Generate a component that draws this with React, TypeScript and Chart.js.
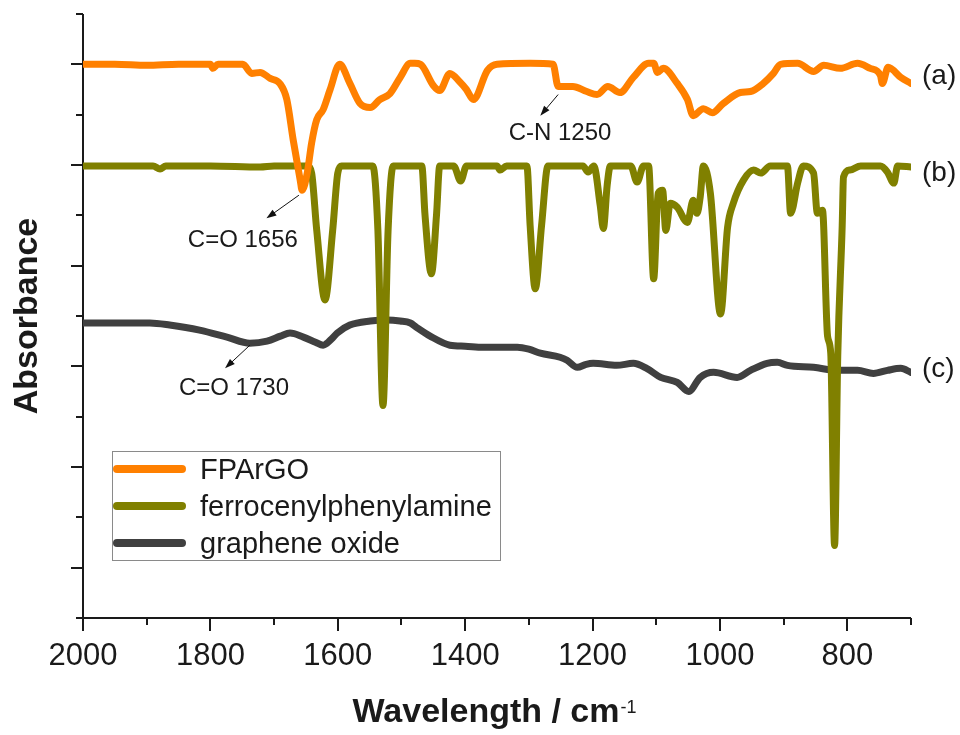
import React, { useEffect, useRef } from "react";
import { Chart, registerables } from "chart.js";

Chart.register(...registerables);

// ---- data: [wavenumber (cm-1), absorbance (offset, a.u.)] ----
const fpargoPoints: [number, number][] = [
  [2000, 5.0], [1950, 5.0], [1900, 4.99], [1850, 5.0], [1800, 5.0], [1796, 4.96], [1788, 5.0],
  [1749, 5.0], [1735, 4.91], [1722, 4.92], [1706, 4.86], [1691, 4.81], [1680, 4.65],
  [1670, 4.25], [1659, 3.85], [1656, 3.75], [1648, 3.92], [1641, 4.22], [1633, 4.45],
  [1623, 4.55], [1612, 4.75], [1597, 5.0], [1581, 4.81], [1565, 4.61], [1549, 4.57],
  [1534, 4.65], [1518, 4.71], [1502, 4.87], [1486, 5.01], [1479, 5.01], [1470, 5.0],
  [1450, 4.79], [1440, 4.74], [1424, 4.91], [1409, 4.83], [1398, 4.75], [1387, 4.65],
  [1365, 4.94], [1350, 5.0], [1298, 5.01], [1262, 5.0], [1254, 4.78], [1231, 4.78],
  [1209, 4.73], [1193, 4.7], [1176, 4.78], [1157, 4.72], [1136, 4.87], [1112, 5.01],
  [1104, 5.01], [1098, 4.92], [1089, 4.96], [1067, 4.81], [1051, 4.65], [1042, 4.49],
  [1026, 4.56], [1012, 4.52], [995, 4.61], [968, 4.72], [952, 4.73], [932, 4.81],
  [916, 4.91], [905, 5.0], [878, 5.01], [853, 4.93], [837, 4.99], [811, 4.96],
  [784, 5.01], [764, 4.96], [748, 4.89], [745, 4.81], [736, 4.97], [716, 4.87], [700, 4.81],
];

const ferrocenylPoints: [number, number][] = [
  [2000, 3.99], [1950, 3.99], [1890, 3.99], [1879, 3.96], [1870, 3.99], [1800, 3.99],
  [1722, 3.98], [1700, 3.99], [1647, 3.99], [1641, 3.92], [1633, 3.35], [1620, 2.66],
  [1608, 3.35], [1600, 3.92], [1594, 3.99], [1545, 3.99], [1537, 3.35], [1529, 1.61],
  [1521, 3.35], [1513, 3.99], [1468, 3.99], [1463, 3.5], [1453, 2.92], [1445, 3.5],
  [1440, 3.99], [1418, 3.99], [1407, 3.84], [1398, 3.99], [1350, 3.99], [1345, 3.95],
  [1335, 3.99], [1303, 3.99], [1298, 3.4], [1290, 2.77], [1280, 3.4], [1270, 3.99],
  [1215, 3.99], [1207, 3.93], [1198, 3.99], [1188, 3.6], [1183, 3.37], [1177, 3.8],
  [1172, 3.99], [1140, 3.99], [1130, 3.83], [1120, 3.99], [1112, 3.99], [1104, 2.87],
  [1097, 3.72], [1090, 3.75], [1085, 3.35], [1078, 3.62], [1067, 3.58], [1051, 3.43],
  [1042, 3.65], [1036, 3.52], [1031, 3.68], [1026, 3.99], [1015, 3.72], [999, 2.52],
  [988, 3.38], [979, 3.62], [963, 3.85], [947, 3.95], [936, 3.92], [921, 3.99],
  [894, 3.99], [889, 3.52], [878, 3.82], [869, 3.99], [853, 3.92], [847, 3.52],
  [839, 3.55], [831, 2.3], [826, 2.13], [820, 0.22], [815, 2.1], [808, 3.4],
  [806, 3.88], [796, 3.95], [779, 3.99], [748, 3.99], [737, 3.93], [727, 3.82],
  [721, 3.99], [700, 3.98],
];

const grapheneOxidePoints: [number, number][] = [
  [2000, 2.43], [1950, 2.43], [1895, 2.43], [1864, 2.41], [1817, 2.36], [1774, 2.29],
  [1738, 2.23], [1711, 2.25], [1690, 2.3], [1675, 2.33], [1654, 2.29], [1635, 2.24],
  [1623, 2.21], [1610, 2.27], [1601, 2.33], [1581, 2.41], [1549, 2.45], [1523, 2.46],
  [1502, 2.45], [1486, 2.43], [1477, 2.39], [1455, 2.3], [1424, 2.21], [1400, 2.2],
  [1372, 2.19], [1318, 2.19], [1300, 2.17], [1282, 2.13], [1251, 2.09], [1240, 2.06],
  [1224, 1.99], [1210, 2.02], [1199, 2.03], [1162, 2.01], [1136, 2.03], [1115, 1.98],
  [1093, 1.89], [1067, 1.84], [1049, 1.75], [1031, 1.89], [1010, 1.94], [973, 1.89],
  [952, 1.96], [926, 2.03], [910, 2.04], [894, 2.01], [853, 1.99], [815, 1.96],
  [784, 1.96], [759, 1.93], [737, 1.96], [716, 1.98], [700, 1.94],
];

const seriesNames = ["FPArGO", "ferrocenylphenylamine", "graphene oxide"];
const seriesColors = ["#ff8000", "#808000", "#404040"];

const xMajorTicks = [2000, 1800, 1600, 1400, 1200, 1000, 800];
const xMajorLabels = ["2000", "1800", "1600", "1400", "1200", "1000", "800"];
const xMinorTicks = [1900, 1700, 1500, 1300, 1100, 900, 700];
const yMajorTicks = [0, 1, 2, 3, 4, 5];
const yMinorTicks = [-0.5, 0.5, 1.5, 2.5, 3.5, 4.5, 5.5];

const curveLabels = ["(a)", "(b)", "(c)"];
const curveLabelLevels = [4.8, 3.84, 1.89];

// annotations: text, arrow start (on curve), arrow head, text anchor (baseline centre)
const annotationTexts = ["C=O 1656", "C-N 1250", "C=O 1730"];
const annotationFrom: [number, number][] = [[1661, 3.7], [1254, 4.7], [1738, 2.21]];
const annotationTo: [number, number][] = [[1712, 3.47], [1282, 4.49], [1777, 1.98]];
const annotationTextAt: [number, number][] = [[1749, 3.19], [1251, 4.25], [1763, 1.72]];

const FONT = "'Liberation Sans', Arial, Helvetica, sans-serif";
const INK = "#1a1a1a";

const overlayPlugin = {
  id: "overlay",
  beforeDatasetsDraw(chart: any) {
    const { ctx, chartArea: a, scales } = chart;
    const xs = scales.x;
    const ys = scales.y;
    ctx.save();
    ctx.strokeStyle = INK;
    ctx.lineWidth = 2;
    ctx.lineCap = "butt";
    ctx.beginPath();
    ctx.moveTo(a.left, a.top);
    ctx.lineTo(a.left, a.bottom);
    ctx.lineTo(a.right, a.bottom);
    ctx.stroke();
    ctx.beginPath();
    yMajorTicks.forEach((v) => {
      const p = Math.round(ys.getPixelForValue(v));
      ctx.moveTo(a.left - 12, p);
      ctx.lineTo(a.left, p);
    });
    yMinorTicks.forEach((v) => {
      const p = Math.round(ys.getPixelForValue(v));
      ctx.moveTo(a.left - 7, p);
      ctx.lineTo(a.left, p);
    });
    xMajorTicks.forEach((v) => {
      const p = Math.round(xs.getPixelForValue(v));
      ctx.moveTo(p, a.bottom);
      ctx.lineTo(p, a.bottom + 13);
    });
    xMinorTicks.forEach((v) => {
      const p = Math.round(xs.getPixelForValue(v));
      ctx.moveTo(p, a.bottom);
      ctx.lineTo(p, a.bottom + 7);
    });
    ctx.stroke();

    // tick labels
    ctx.fillStyle = INK;
    ctx.font = `31px ${FONT}`;
    ctx.textAlign = "center";
    ctx.textBaseline = "alphabetic";
    xMajorTicks.forEach((v, i) => {
      ctx.fillText(xMajorLabels[i], xs.getPixelForValue(v), a.bottom + 47);
    });

    // axis titles
    ctx.font = `bold 34px ${FONT}`;
    const main = "Wavelength / cm";
    const wMain = ctx.measureText(main).width;
    ctx.font = `18px ${FONT}`;
    const sup = "-1";
    const wSup = ctx.measureText(sup).width;
    const cx = (a.left + a.right) / 2 - 3;
    const start = cx - (wMain + wSup) / 2;
    ctx.textAlign = "left";
    ctx.font = `bold 34px ${FONT}`;
    ctx.fillText(main, start, a.bottom + 104);
    ctx.font = `18px ${FONT}`;
    ctx.fillText(sup, start + wMain + 1, a.bottom + 95);

    ctx.save();
    ctx.translate(37, (a.top + a.bottom) / 2);
    ctx.rotate(-Math.PI / 2);
    ctx.font = `bold 34px ${FONT}`;
    ctx.textAlign = "center";
    ctx.fillText("Absorbance", 0, 0);
    ctx.restore();
    ctx.restore();
  },
  afterDatasetsDraw(chart: any) {
    const { ctx, chartArea: a, scales } = chart;
    const xs = scales.x;
    const ys = scales.y;
    ctx.save();
    // curve labels
    ctx.fillStyle = INK;
    ctx.font = `28px ${FONT}`;
    ctx.textAlign = "left";
    ctx.textBaseline = "alphabetic";
    curveLabels.forEach((t, i) => {
      ctx.fillText(t, a.right + 11, ys.getPixelForValue(curveLabelLevels[i]));
    });

    // annotations
    annotationTexts.forEach((t, i) => {
      const x1 = xs.getPixelForValue(annotationFrom[i][0]);
      const y1 = ys.getPixelForValue(annotationFrom[i][1]);
      const x2 = xs.getPixelForValue(annotationTo[i][0]);
      const y2 = ys.getPixelForValue(annotationTo[i][1]);
      const ang = Math.atan2(y2 - y1, x2 - x1);
      const hl = 10;
      const hw = 3.5;
      ctx.strokeStyle = "#111";
      ctx.lineWidth = 1;
      ctx.beginPath();
      ctx.moveTo(x1, y1);
      ctx.lineTo(x2 - Math.cos(ang) * hl * 0.8, y2 - Math.sin(ang) * hl * 0.8);
      ctx.stroke();
      ctx.fillStyle = "#111";
      ctx.beginPath();
      ctx.moveTo(x2, y2);
      ctx.lineTo(x2 - Math.cos(ang) * hl - Math.sin(ang) * hw, y2 - Math.sin(ang) * hl + Math.cos(ang) * hw);
      ctx.lineTo(x2 - Math.cos(ang) * hl + Math.sin(ang) * hw, y2 - Math.sin(ang) * hl - Math.cos(ang) * hw);
      ctx.closePath();
      ctx.fill();
      ctx.fillStyle = INK;
      ctx.font = `24px ${FONT}`;
      ctx.textAlign = "center";
      ctx.fillText(t, xs.getPixelForValue(annotationTextAt[i][0]), ys.getPixelForValue(annotationTextAt[i][1]));
    });

    // legend
    const lx = a.left + 29;
    const ly = 451;
    const lw = 388;
    const lh = 109;
    ctx.fillStyle = "#ffffff";
    ctx.fillRect(lx, ly, lw, lh);
    ctx.strokeStyle = "#8a8a8a";
    ctx.lineWidth = 1;
    ctx.strokeRect(lx + 0.5, ly + 0.5, lw, lh);
    ctx.font = `29px ${FONT}`;
    ctx.textAlign = "left";
    seriesNames.forEach((name, i) => {
      const yy = ly + 18 + i * 37;
      ctx.strokeStyle = seriesColors[i];
      ctx.lineWidth = 8;
      ctx.lineCap = "round";
      ctx.beginPath();
      ctx.moveTo(lx + 5, yy);
      ctx.lineTo(lx + 70, yy);
      ctx.stroke();
      ctx.fillStyle = INK;
      ctx.fillText(name, lx + 88, yy + 10);
    });
    ctx.restore();
  },
};

export default function App() {
  const canvasRef = useRef<HTMLCanvasElement | null>(null);

  useEffect(() => {
    if (!canvasRef.current) return;
    const all = [fpargoPoints, ferrocenylPoints, grapheneOxidePoints];
    const chart = new Chart(canvasRef.current, {
      type: "line",
      data: {
        datasets: all.map((pts, i) => ({
          label: seriesNames[i],
          data: pts.map(([x, y]) => ({ x, y })),
          borderColor: seriesColors[i],
          backgroundColor: seriesColors[i],
          borderWidth: 7,
          pointRadius: 0,
          borderJoinStyle: "round" as const,
          borderCapStyle: "round" as const,
          cubicInterpolationMode: "monotone" as const,
          fill: false,
        })),
      },
      options: {
        animation: false,
        responsive: true,
        maintainAspectRatio: false,
        layout: { padding: { left: 83, right: 49, top: 14, bottom: 117 } },
        scales: {
          x: { type: "linear", reverse: true, min: 700, max: 2000, display: false },
          y: { type: "linear", min: -0.5, max: 5.5, display: false },
        },
        plugins: {
          legend: { display: false },
          tooltip: { enabled: false },
        },
        events: [],
      },
      plugins: [overlayPlugin],
    });
    return () => chart.destroy();
  }, []);

  return (
    <div style={{ position: "fixed", left: 0, top: 0, width: 960, height: 735, background: "#fff" }}>
      <canvas ref={canvasRef} />
    </div>
  );
}
